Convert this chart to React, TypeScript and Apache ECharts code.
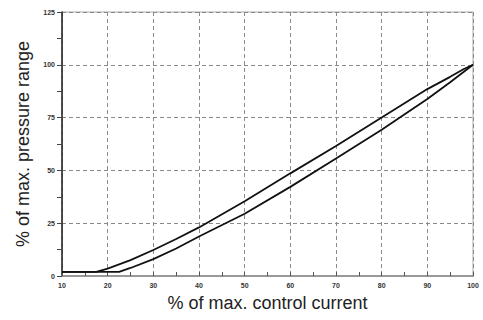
import React, { useEffect, useRef } from "react";
import * as echarts from "echarts";

const upperX = [10, 17.5, 20, 25, 30, 35, 40, 50, 60, 70, 80, 90, 95, 98, 100];
const upperY = [2, 2, 3.5, 7.5, 12.3, 17.5, 23, 35.4, 48.6, 61.6, 75, 88.5, 94.3, 98, 100];
const lowerX = [10, 22.5, 25, 30, 35, 40, 50, 60, 70, 80, 90, 95, 100];
const lowerY = [2, 2, 3.8, 8, 13, 18.7, 29.5, 42.2, 55.6, 69.2, 83.8, 91.7, 100];
const xTicks = [10, 20, 30, 40, 50, 60, 70, 80, 90, 100];
const yTicks = [0, 25, 50, 75, 100, 125];

export default function App() {
  const ref = useRef<HTMLDivElement>(null);
  useEffect(() => {
    const chart = echarts.init(ref.current!, null, { renderer: "svg" });
    const grid = "#8a8a8a";
    chart.setOption({
      animation: false,
      backgroundColor: "#fff",
      grid: { left: 62, right: 10, top: 12, bottom: 44, show: true, borderColor: "#aaa", borderWidth: 1 },
      xAxis: {
        type: "value",
        min: xTicks[0],
        max: xTicks[xTicks.length - 1],
        interval: 10,
        name: "% of max. control current",
        nameLocation: "middle",
        nameGap: 13,
        nameTextStyle: { fontFamily: "Liberation Sans", fontSize: 18, color: "#222", verticalAlign: "top" },
        axisLine: { show: true, lineStyle: { color: "#999", width: 2 } },
        axisTick: { show: true, inside: true, length: 4, lineStyle: { color: "#555" } },
        minorTick: { show: true, splitNumber: 2, length: 4, lineStyle: { color: "#555" } },
        axisLabel: { fontFamily: "Liberation Sans", fontSize: 7, fontWeight: "bold", color: "#333", margin: 6 },
        splitLine: { show: true, lineStyle: { color: grid, type: [4, 3], width: 1 } },
      },
      yAxis: {
        type: "value",
        min: yTicks[0],
        max: yTicks[yTicks.length - 1],
        interval: 25,
        name: "% of max. pressure range",
        nameLocation: "middle",
        nameGap: 30,
        nameTextStyle: { fontFamily: "Liberation Sans", fontSize: 18, color: "#222" },
        axisLine: { show: true, lineStyle: { color: "#222", width: 1.5 } },
        axisTick: { show: true, inside: false, length: 5, lineStyle: { color: "#444" } },
        minorTick: { show: true, splitNumber: 2, length: 5, lineStyle: { color: "#444" } },
        axisLabel: { fontFamily: "Liberation Sans", fontSize: 7, fontWeight: "bold", color: "#333", margin: 7 },
        splitLine: { show: true, lineStyle: { color: grid, type: [4, 3], width: 1 } },
      },
      series: [
        {
          type: "line",
          data: upperX.map((x, i) => [x, upperY[i]]),
          showSymbol: false,
          smooth: false,
          lineStyle: { color: "#111", width: 1.8 },
        },
        {
          type: "line",
          data: lowerX.map((x, i) => [x, lowerY[i]]),
          showSymbol: false,
          smooth: false,
          lineStyle: { color: "#111", width: 1.8 },
        },
      ],
    });
    return () => chart.dispose();
  }, []);
  return <div ref={ref} style={{ width: 483, height: 320, position: "absolute", left: 0, top: 0 }} />;
}
